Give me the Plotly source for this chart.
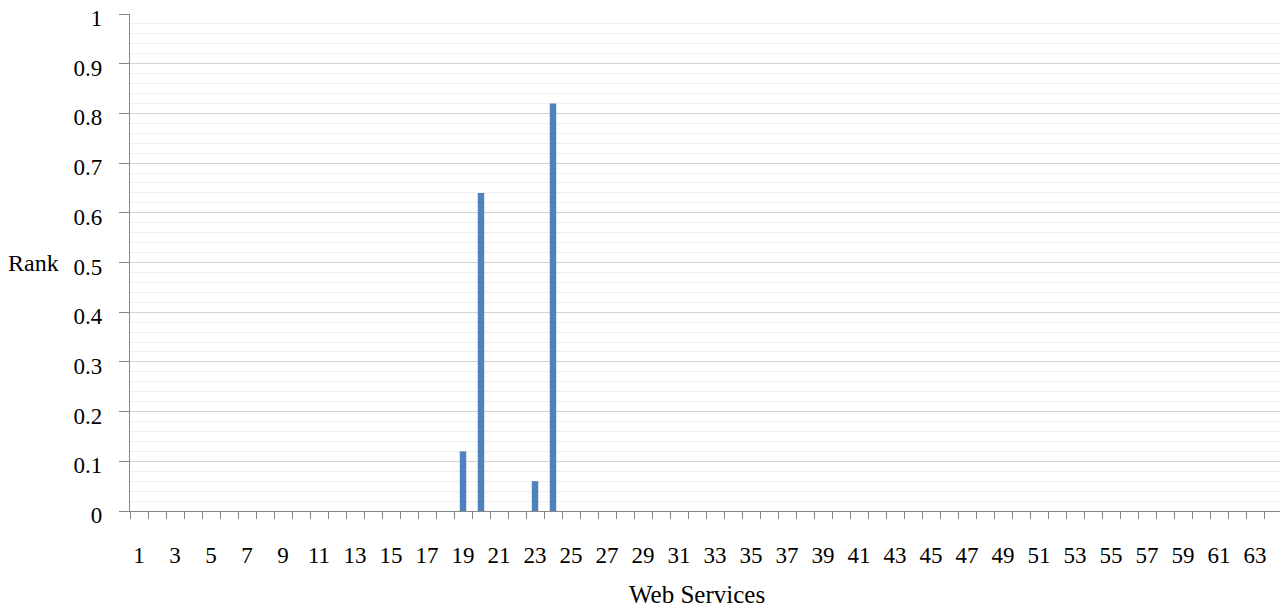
import plotly.graph_objects as go

services = list(range(1, 65))
rank_values = {19: 0.12, 20: 0.64, 23: 0.06, 24: 0.82}
ranks = [rank_values.get(s, 0) for s in services]
x_tick_labels = [str(v) for v in range(1, 64, 2)]
y_tick_vals = [round(i * 0.1, 1) for i in range(11)]
y_tick_text = ["0", "0.1", "0.2", "0.3", "0.4", "0.5", "0.6", "0.7", "0.8", "0.9", "1"]

fig = go.Figure(go.Bar(x=services, y=ranks, marker=dict(color="#4f81bd", line=dict(width=0)), width=0.36))

font = dict(family="Liberation Serif", size=23, color="#000000")

fig.update_layout(
    width=1280, height=602,
    margin=dict(l=122, r=6, t=6, b=99),
    paper_bgcolor="white", plot_bgcolor="white",
    showlegend=False,
    font=font,
)
fig.update_xaxes(
    range=[0.5, 64.5],
    tickmode="array",
    tickvals=list(range(1, 64, 2)),
    ticktext=x_tick_labels,
    ticks="",
    ticklabelstandoff=23,
    ticklabeloverflow="allow",
    showgrid=False,
    showline=True, linecolor="#868686", linewidth=1.3,
    minor=dict(tickmode="array", tickvals=[i + 0.5 for i in range(0, 65)], ticks="outside", ticklen=7, tickcolor="#868686", tickwidth=1.3, showgrid=False),
    zeroline=False,
    automargin=False,
)
fig.update_yaxes(
    range=[0, 1],
    tickmode="array",
    tickvals=y_tick_vals,
    ticktext=y_tick_text,
    ticks="outside", ticklen=10, tickcolor="#868686", tickwidth=1.3,
    ticklabelstandoff=12,
    ticklabelshift=4,
    ticklabeloverflow="allow",
    showgrid=True, gridcolor="#d4d4d4", gridwidth=1,
    minor=dict(dtick=0.02, showgrid=True, gridcolor="#efefef", gridwidth=1),
    showline=True, linecolor="#868686", linewidth=1.3,
    zeroline=False,
    title=None,
    automargin=False,
)
fig.add_annotation(text="Rank", xref="paper", yref="paper", x=-0.084, y=0.5, xanchor="center", yanchor="middle", showarrow=False, font=dict(family="Liberation Serif", size=24, color="#000000"))
fig.add_annotation(text="Web Services", xref="paper", yref="paper", x=0.492, y=-0.169, xanchor="center", yanchor="middle", showarrow=False, font=dict(family="Liberation Serif", size=25, color="#000000"))

fig.write_html("out.html")
